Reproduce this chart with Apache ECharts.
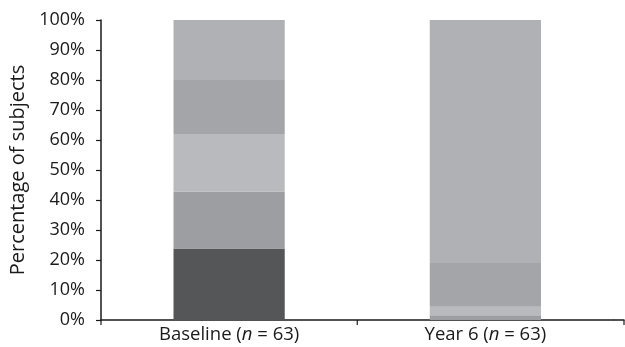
<!DOCTYPE html>
<html><head><meta charset="utf-8">
<script src="https://cdn.jsdelivr.net/npm/echarts@6/dist/echarts.min.js"></script>
<style>html,body{margin:0;padding:0;background:#fff}#c{width:625px;height:347px}</style>
</head><body><div id="c"></div>
<script>
const categories = ['Baseline', 'Year 6'];
const seg1 = [23.8, 0];
const seg2 = [19.0, 1.6];
const seg3 = [19.2, 2.8];
const seg4 = [18.0, 14.6];
const seg5 = [20.0, 81.0];
const yTicks = [0, 10, 20, 30, 40, 50, 60, 70, 80, 90, 100];
const colors = ['#555658', '#9d9ea1', '#b9babd', '#a4a5a8', '#b0b1b4'];
const segs = [seg1, seg2, seg3, seg4, seg5];
const FONT = '"Open Sans", "Noto Sans", sans-serif';
const AX = '#1a1a1a';
const chart = echarts.init(document.getElementById('c'));
chart.setOption({
  animation: false,
  grid: {left: 101, right: 11.5, top: 20, bottom: 27, containLabel: false},
  xAxis: {
    type: 'category', data: categories, boundaryGap: true,
    axisLine: {lineStyle: {color: AX, width: 1.5}},
    axisTick: {show: false},
    axisLabel: {
      margin: 5, color: AX, fontFamily: FONT, fontSize: 18.5,
      formatter: v => v + ' ({i|n} = 63)',
      rich: {i: {fontStyle: 'italic', fontFamily: FONT, fontSize: 18.5, color: AX}}
    }
  },
  yAxis: {
    type: 'value', min: 0, max: 100, interval: 10,
    name: 'Percentage of subjects', nameLocation: 'middle', nameGap: 71,
    nameTextStyle: {fontFamily: FONT, fontSize: 20, color: AX},
    axisLine: {show: true, lineStyle: {color: AX, width: 1.5}},
    axisTick: {show: true, length: 5, lineStyle: {color: AX, width: 1.2}},
    splitLine: {show: false},
    axisLabel: {margin: 16, color: AX, fontFamily: FONT, fontSize: 18,
      formatter: v => yTicks.includes(v) ? v + '%' : ''}
  },
  series: segs.map((d, i) => ({
    type: 'bar', stack: 'a', data: d, barWidth: '43.4%',
    itemStyle: {color: colors[i]}
  }))
});
// axis decoration: line extended past the last category, boundary ticks
const y0 = chart.convertToPixel({yAxisIndex: 0}, 0);
const c0 = chart.convertToPixel({xAxisIndex: 0}, 0);
const c1 = chart.convertToPixel({xAxisIndex: 0}, 1);
const xl = c0 - (c1 - c0) / 2;
const xm = (c0 + c1) / 2;
const xr = 624;
const tick = x => ({type: 'line', shape: {x1: x, y1: y0, x2: x, y2: y0 + 5}, style: {stroke: AX, lineWidth: 1.2}});
chart.setOption({graphic: [
  {type: 'line', shape: {x1: c1 + (c1 - c0) / 2, y1: y0, x2: xr + 0.5, y2: y0}, style: {stroke: AX, lineWidth: 1.5}},
  tick(xl), tick(xm), tick(xr)
]});
</script></body></html>
